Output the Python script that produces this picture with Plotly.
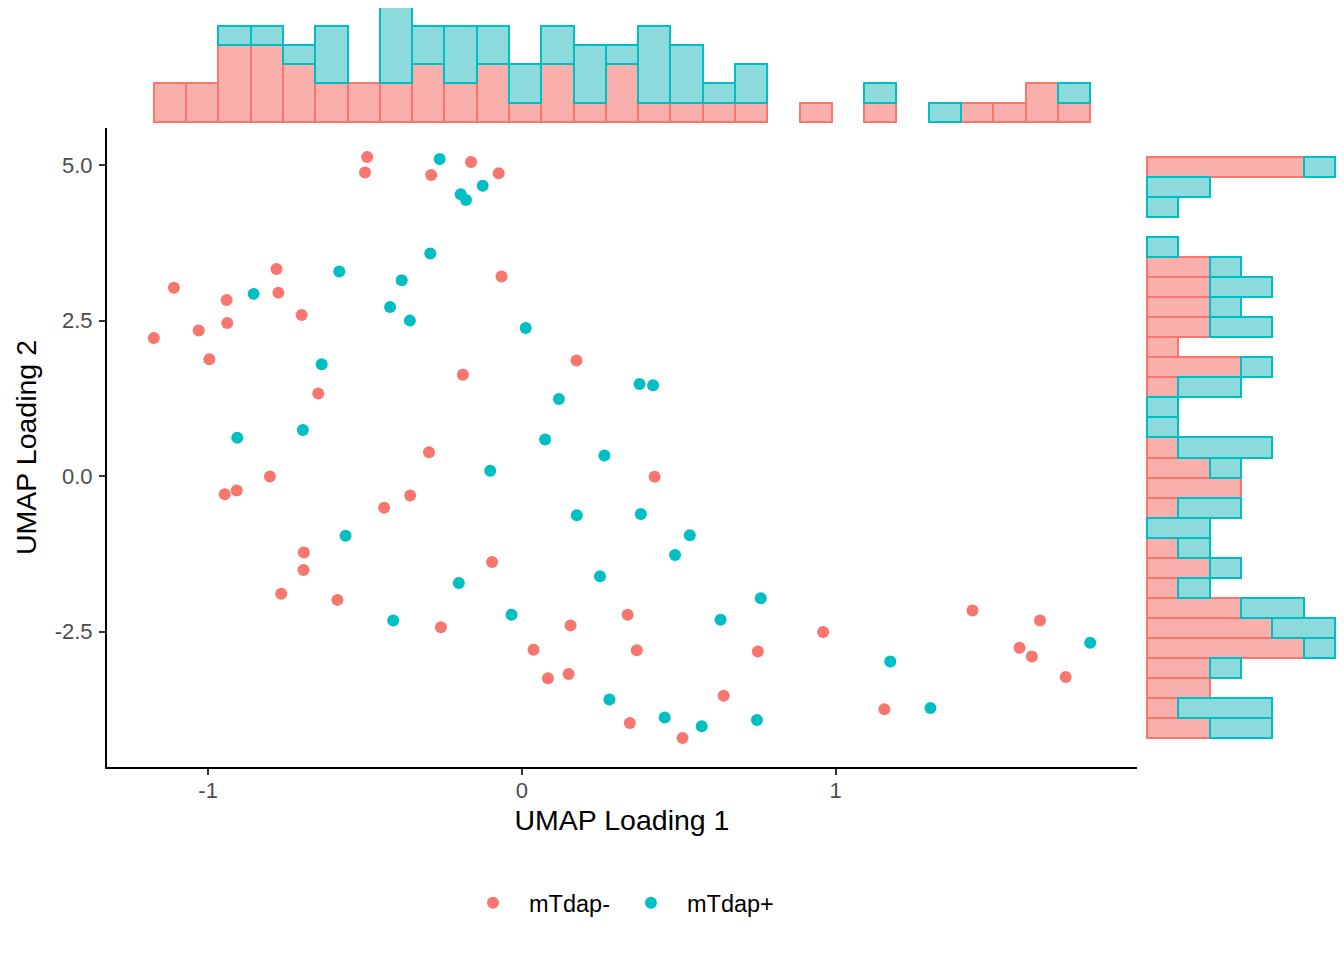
import numpy as np
import plotly.graph_objects as go

# ---------------- data ----------------
groups = ["mTdap-", "mTdap+"]

neg_x = [-0.493, -0.500, -0.289, -0.162, -0.074, -0.782, -1.109, -0.776, -0.941, -0.702,
         -0.939, -1.030, -1.173, -0.996, -0.649, -0.065, 0.174, -0.188, -0.296, -0.803,
         -0.909, -0.947, -0.356, -0.439, -0.695, -0.696, -0.767, -0.588, -0.258, 0.423,
         -0.095, 0.337, 0.155, 0.037, 0.366, 0.752, 0.083, 0.149, 0.643, 0.344,
         0.512, 0.960, 1.155, 1.436, 1.651, 1.586, 1.625, 1.733]
neg_y = [5.13, 4.88, 4.84, 5.05, 4.87, 3.33, 3.03, 2.95, 2.83, 2.59,
         2.46, 2.34, 2.22, 1.88, 1.33, 3.21, 1.86, 1.63, 0.385, -0.005,
         -0.23, -0.29, -0.31, -0.51, -1.23, -1.51, -1.89, -1.99, -2.43, -0.01,
         -1.38, -2.23, -2.40, -2.79, -2.80, -2.82, -3.25, -3.18, -3.53, -3.97,
         -4.21, -2.505, -3.75, -2.16, -2.32, -2.76, -2.90, -3.23]

pos_x = [-0.262, -0.125, -0.195, -0.178, -0.292, -0.582, -0.383, -0.855, -0.420, -0.357,
         -0.638, -0.698, -0.907, 0.012, 0.375, 0.418, 0.118, 0.074, -0.562, -0.410,
         0.263, -0.101, 0.175, 0.379, 0.535, 0.488, -0.201, 0.249, 0.761, -0.033,
         0.633, 0.279, 0.455, 0.573, 0.749, 1.174, 1.302, 1.811]
pos_y = [5.10, 4.67, 4.53, 4.44, 3.58, 3.29, 3.15, 2.93, 2.72, 2.50,
         1.80, 0.74, 0.615, 2.38, 1.48, 1.46, 1.24, 0.59, -0.96, -2.32,
         0.33, 0.086, -0.63, -0.61, -0.95, -1.27, -1.72, -1.61, -1.965, -2.23,
         -2.31, -3.59, -3.88, -4.02, -3.92, -2.98, -3.73, -2.68]

x_ticks = [-1, 0, 1]
x_tick_labels = ["-1", "0", "1"]
y_ticks = [5.0, 2.5, 0.0, -2.5]
y_tick_labels = ["5.0", "2.5", "0.0", "-2.5"]

N_BINS = 29

# ---------------- style ----------------
RED = "#F8766D"
TEAL = "#00BFC4"
RED_FILL = "#F9AFAB"
TEAL_FILL = "#8CDADC"
FONT = "Liberation Sans, Arial, sans-serif"

# The page has an 8px body margin, so the figure is sized to fit inside it.
OFF = 8
PAGE_W, PAGE_H = 1344, 960
W, H = PAGE_W - 2 * OFF, PAGE_H - 2 * OFF


def fx(px):
    return (px - OFF) / W


def fy(py):
    return 1 - (py - OFF) / H


all_x = np.array(neg_x + pos_x)
all_y = np.array(neg_y + pos_y)
xmin, xmax = all_x.min(), all_x.max()
ymin, ymax = all_y.min(), all_y.max()
eps = 1e-7
xbins = dict(start=xmin - eps, end=xmax + eps, size=(xmax - xmin + 2 * eps) / N_BINS)
ybins = dict(start=ymin - eps, end=ymax + eps, size=(ymax - ymin + 2 * eps) / N_BINS)
xr = [xmin - 0.05 * (xmax - xmin), xmax + 0.05 * (xmax - xmin)]
yr = [ymin - 0.05 * (ymax - ymin), ymax + 0.05 * (ymax - ymin)]

# panel geometry in page pixels
PL, PR, PT, PB = 107, 1137, 128, 767

# marginal count axes: top hist 0 at y=122, 19.28 px per count; right hist 0 at x=1146.7, 31.4 px per count
top_range = [-(PT - 122) / 19.28, (122 - OFF) / 19.28]
right_range = [-(1146.7 - PR) / 31.4, (PAGE_W - OFF - 1146.7) / 31.4]

fig = go.Figure()

for name, xs, ys, c, fc in [(groups[0], neg_x, neg_y, RED, RED_FILL),
                            (groups[1], pos_x, pos_y, TEAL, TEAL_FILL)]:
    fig.add_trace(go.Scatter(x=xs, y=ys, mode="markers", name=name,
                             marker=dict(color=c, size=12),
                             xaxis="x", yaxis="y", showlegend=True))
    fig.add_trace(go.Histogram(x=xs, xbins=xbins, autobinx=False,
                               marker=dict(color=fc, line=dict(color=c, width=2)),
                               xaxis="x2", yaxis="y2", showlegend=False, hoverinfo="skip"))
    fig.add_trace(go.Histogram(y=ys, ybins=ybins, autobiny=False, orientation="h",
                               marker=dict(color=fc, line=dict(color=c, width=2)),
                               xaxis="x3", yaxis="y3", showlegend=False, hoverinfo="skip"))

axis_common = dict(showgrid=False, zeroline=False)

fig.update_layout(
    width=W, height=H,
    margin=dict(l=0, r=0, t=0, b=0),
    paper_bgcolor="white", plot_bgcolor="white",
    barmode="stack", bargap=0,
    font=dict(family=FONT, color="black"),
    xaxis=dict(domain=[fx(PL), fx(PR)], range=xr, tickvals=x_ticks, ticktext=x_tick_labels,
               ticks="outside", ticklen=6, tickwidth=2, tickcolor="#333333",
               showline=True, linecolor="black", linewidth=2, ticklabelstandoff=-3,
               tickfont=dict(size=22, color="#4D4D4D", family=FONT),
               title=dict(text="UMAP Loading 1", font=dict(size=28.5, color="black", family=FONT),
                          standoff=8),
               anchor="y", **axis_common),
    yaxis=dict(domain=[fy(PB), fy(PT)], range=yr, tickvals=y_ticks, ticktext=y_tick_labels,
               ticks="outside", ticklen=6, tickwidth=2, tickcolor="#333333",
               showline=True, linecolor="black", linewidth=2, ticklabelstandoff=2,
               tickfont=dict(size=22, color="#4D4D4D", family=FONT),
               title=dict(text="UMAP Loading 2", font=dict(size=28.5, color="black", family=FONT),
                          standoff=10),
               anchor="x", **axis_common),
    xaxis2=dict(domain=[fx(PL), fx(PR)], range=xr, visible=False, anchor="y2", **axis_common),
    yaxis2=dict(domain=[fy(PT), 1.0], range=top_range, visible=False, anchor="x2", **axis_common),
    xaxis3=dict(domain=[fx(PR), 1.0], range=right_range, visible=False, anchor="y3", **axis_common),
    yaxis3=dict(domain=[fy(PB), fy(PT)], range=yr, visible=False, anchor="x3", **axis_common),
    legend=dict(orientation="h", x=fx(457), xanchor="left", y=fy(903), yanchor="middle",
                font=dict(size=23.5, color="black", family=FONT),
                itemwidth=62, traceorder="normal", bgcolor="rgba(0,0,0,0)"),
)

fig.write_html("out.html")
